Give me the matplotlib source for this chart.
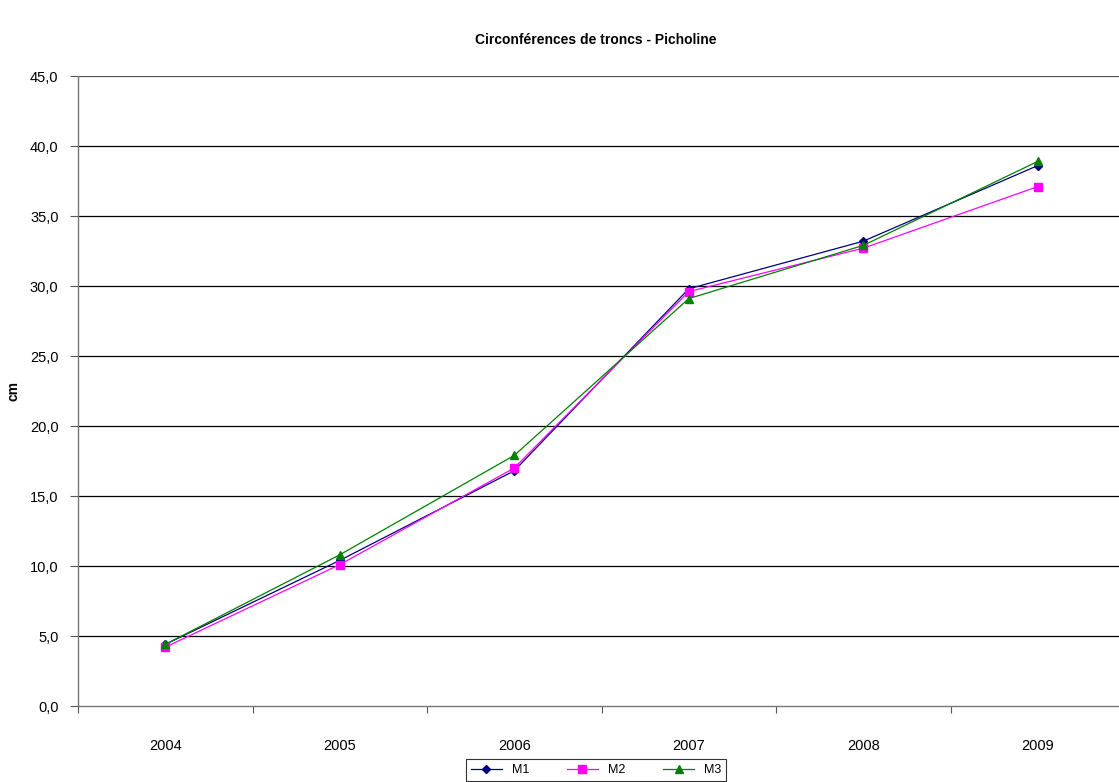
import matplotlib
matplotlib.use("Agg")
import matplotlib.pyplot as plt
import numpy as np

plt.rcParams['font.family'] = ['Liberation Sans', 'DejaVu Sans']

years = ['2004', '2005', '2006', '2007', '2008', '2009']
m1 = [4.4, 10.4, 16.8, 29.8, 33.2, 38.6]
m2 = [4.2, 10.1, 17.0, 29.6, 32.7, 37.1]
m3 = [4.4, 10.8, 17.9, 29.1, 32.9, 38.9]
yticks = [0, 5, 10, 15, 20, 25, 30, 35, 40, 45]
ytick_labels = ['0,0', '5,0', '10,0', '15,0', '20,0', '25,0', '30,0', '35,0', '40,0', '45,0']

W, H = 1119, 782
fig = plt.figure(figsize=(W / 100, H / 100), dpi=100)
left, right, top, bottom = 78, 1125, 76, 706
ax = fig.add_axes([left / W, 1 - bottom / H, (right - left) / W, (bottom - top) / H])

x = np.arange(len(years))
ax.plot(x, m1, color='#000080', marker='D', markersize=4, lw=0.9, label='M1', zorder=3)
ax.plot(x, m2, color='#FF00FF', marker='s', markersize=5.5, lw=0.9, label='M2', zorder=3)
ax.plot(x, m3, color='#008000', marker='^', markersize=6, lw=0.9, label='M3', zorder=3)

ax.set_xlim(-0.5, len(years) - 0.5)
ax.set_ylim(0, 45)
ax.set_yticks(yticks)
ax.set_yticklabels(ytick_labels, fontsize=10.5)
for yv in yticks[1:]:
    ax.axhline(yv, color='#000000' if yv != 45 else '#555555', lw=0.9, zorder=1)

ax.set_xticks(np.arange(-0.5, len(years), 1.0))
ax.set_xticklabels([])
ax.set_xticks(x, minor=True)
ax.set_xticklabels(years, minor=True, fontsize=10.5)
ax.tick_params(axis='x', which='major', direction='out', length=5, color='#555555')
ax.tick_params(axis='x', which='minor', length=0, pad=24)
ax.tick_params(axis='y', direction='out', length=6, color='#555555', pad=8)

for s in ['top', 'right']:
    ax.spines[s].set_visible(False)
for s in ['left', 'bottom']:
    ax.spines[s].set_color('#777777')
    ax.spines[s].set_linewidth(1.0)

fig.text(14 / W, 1 - 391 / H, 'cm', rotation=90, ha='center', va='center',
         fontsize=10, fontweight='bold')
fig.text(596 / W, 1 - 40 / H, 'Circonférences de troncs - Picholine', ha='center', va='center',
         fontsize=10, fontweight='bold')

leg = fig.legend(loc='center', bbox_to_anchor=(596 / W, 1 - 770 / H), ncol=3, frameon=True,
                 fontsize=9, fancybox=False, edgecolor='#000000', handlelength=2.5,
                 columnspacing=3, borderpad=0.4, markerscale=1.0)
leg.get_frame().set_linewidth(0.8)

fig.savefig('out.png', dpi=100)
